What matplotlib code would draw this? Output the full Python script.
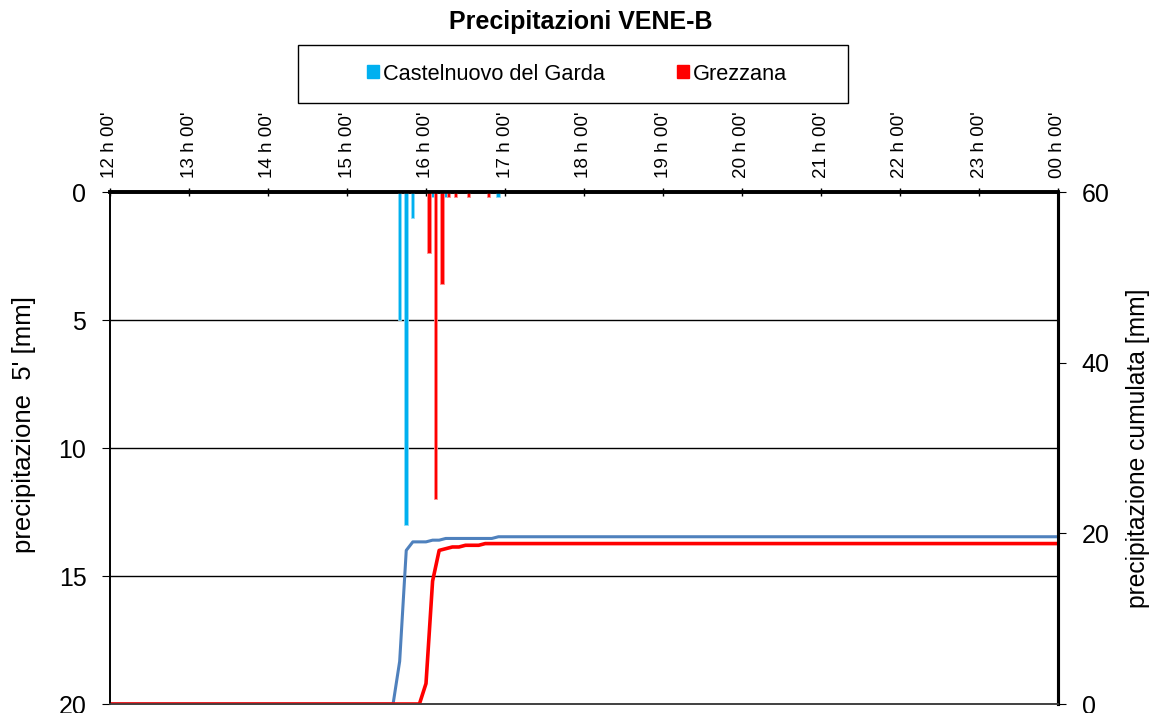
# Precipitazioni VENE-B: 5' rainfall bars (left, inverted) + cumulative lines (right)

import matplotlib
matplotlib.use("Agg")
import matplotlib.pyplot as plt
from matplotlib.patches import Patch, Rectangle
import numpy as np

plt.rcParams['font.family'] = ['Liberation Sans', 'DejaVu Sans']

# 5-minute slots counted from 12:00 (slot 0) to 00:00 (slot 144)
n_slots = 144
hour_labels = ["12 h 00'", "13 h 00'", "14 h 00'", "15 h 00'", "16 h 00'", "17 h 00'",
               "18 h 00'", "19 h 00'", "20 h 00'", "21 h 00'", "22 h 00'", "23 h 00'",
               "00 h 00'"]

stations = ["Castelnuovo del Garda", "Grezzana"]
castelnuovo_slots = [44, 45, 46, 49, 51, 59]
castelnuovo_mm = [5.0, 13.0, 1.0, 0.2, 0.2, 0.2]
grezzana_slots = [48, 49, 50, 51, 52, 54, 57]
grezzana_mm = [2.4, 12.0, 3.6, 0.2, 0.2, 0.2, 0.2]

bar_colors = ["#00B0F0", "#FF0000"]
line_colors = ["#4F81BD", "#FF0000"]


def cumulative(slots, values):
    series = np.zeros(n_slots + 1)
    series[slots] = values
    return np.cumsum(series)


fig = plt.figure(figsize=(11.62, 7.13), dpi=100)
ax = fig.add_axes([110 / 1162, 1 - 704 / 713, 948 / 1162, 512 / 713])
ax2 = ax.twinx()

# bars, clustered like the original category chart
width = 0.5
ax.bar(np.array(castelnuovo_slots) - 0.05, castelnuovo_mm, width=width,
       color=bar_colors[0], edgecolor="#8FDDF8", linewidth=0.6, zorder=3)
ax.bar(np.array(grezzana_slots) + 0.45, grezzana_mm, width=width,
       color=bar_colors[1], edgecolor="#FF9090", linewidth=0.6, zorder=3)

x = np.arange(n_slots + 1)
ax2.plot(x, cumulative(castelnuovo_slots, castelnuovo_mm), color=line_colors[0], lw=2.2)
ax2.plot(x, cumulative(grezzana_slots, grezzana_mm), color=line_colors[1], lw=2.6)

# left axis: inverted 0..20
ax.set_ylim(20, 0)
ax.set_yticks([0, 5, 10, 15, 20])
ax.set_xlim(0, n_slots)
ax.set_xticks(np.arange(0, n_slots + 1, 12))
ax.set_xticklabels(hour_labels, rotation=90, fontsize=13.6)
ax.xaxis.tick_top()
ax.tick_params(axis='x', direction='inout', length=6, width=1, pad=7)
ax.tick_params(axis='y', direction='out', length=6, labelsize=18, pad=11)
for v in [5, 10, 15]:
    ax.axhline(v, color='black', lw=1, zorder=1)
ax.set_ylabel("precipitazione  5' [mm]", fontsize=18.5, labelpad=16)
ax.yaxis.label.set_y(0.545)

# right axis: cumulative 0..60
ax2.set_ylim(0, 60)
ax2.set_yticks([0, 20, 40, 60])
ax2.tick_params(axis='y', direction='out', length=6, labelsize=18, pad=11)
ax2.set_ylabel("precipitazione cumulata [mm]", fontsize=17.7, labelpad=12)

for a in (ax, ax2):
    a.spines['top'].set_linewidth(2.6)
    a.spines['right'].set_linewidth(2.2)
    a.spines['left'].set_linewidth(1.2)
    a.spines['bottom'].set_linewidth(1.2)
    a.spines['bottom'].set_color('#404040')

fig.text(0.5, 1 - 22 / 713, "Precipitazioni VENE-B", ha='center', va='center',
         fontsize=18, fontweight='bold')

# legend box
fig.patches.append(Rectangle((298 / 1162, 1 - 103 / 713), 550 / 1162, 58 / 713,
                             transform=fig.transFigure, fill=False,
                             edgecolor='black', lw=1))
handles = [Patch(color=c) for c in bar_colors]
fig.legend(handles, stations, loc='center', bbox_to_anchor=(577 / 1162, 1 - 74 / 713),
           ncol=2, frameon=False, fontsize=15.7, handlelength=0.55, handleheight=0.55,
           handletextpad=0.2, columnspacing=3.3)

fig.savefig("out.png", dpi=100)
